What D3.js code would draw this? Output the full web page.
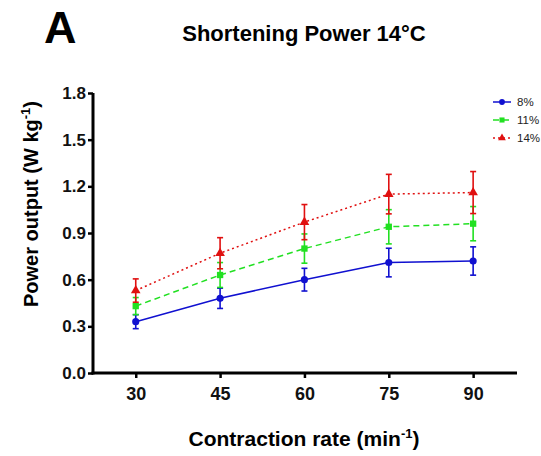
<!DOCTYPE html>
<html>
<head>
<meta charset="utf-8">
<script src="https://cdn.jsdelivr.net/npm/d3@7"></script>
<style>
  html, body { margin: 0; padding: 0; background: #fff; }
  text { font-family: "Liberation Sans", Arial, sans-serif; }
</style>
</head>
<body>
<div id="viz"></div>
<script>
// contraction rates (min^-1)
const rates = [30, 45, 60, 75, 90];
const yTicks = [0.0, 0.3, 0.6, 0.9, 1.2, 1.5, 1.8];

// mean power output (W kg^-1) and error (+/-) per strain
const p8 = [0.33, 0.48, 0.60, 0.71, 0.72];
const e8 = [0.045, 0.065, 0.073, 0.092, 0.091];
const p11 = [0.43, 0.63, 0.80, 0.94, 0.96];
const e11 = [0.055, 0.08, 0.094, 0.11, 0.11];
const p14 = [0.53, 0.77, 0.97, 1.15, 1.16];
const e14 = [0.075, 0.10, 0.113, 0.127, 0.135];

const seriesNames = ["8%", "11%", "14%"];

const series = [
  { name: seriesNames[0], values: p8, errors: e8, color: "#1010d0", dash: null, symbol: d3.symbolCircle },
  { name: seriesNames[1], values: p11, errors: e11, color: "#22e022", dash: "6,4", symbol: d3.symbolSquare },
  { name: seriesNames[2], values: p14, errors: e14, color: "#e01010", dash: "2,3", symbol: d3.symbolTriangle }
];

const W = 541, H = 456;
const margin = { top: 93, right: 24, bottom: 83, left: 93 };

const svg = d3.select("#viz")
  .append("svg")
    .attr("width", W)
    .attr("height", H);

const x = d3.scaleLinear()
  .domain([22.4, 97.8])
  .range([margin.left, W - margin.right]);

const y = d3.scaleLinear()
  .domain([0, 1.8])
  .range([H - margin.bottom, margin.top]);

// axes
const xAxis = svg.append("g")
  .attr("transform", `translate(0,${H - margin.bottom})`)
  .call(d3.axisBottom(x).tickValues(rates).tickSize(5).tickPadding(9).tickFormat(d3.format("d")));

const yAxis = svg.append("g")
  .attr("transform", `translate(${margin.left},0)`)
  .call(d3.axisLeft(y).tickValues(yTicks).tickSize(5).tickPadding(2).tickFormat(d3.format(".1f")));

[xAxis, yAxis].forEach(g => {
  g.select(".domain").attr("stroke", "#000").attr("stroke-width", 3);
  g.selectAll(".tick line").attr("stroke", "#000").attr("stroke-width", 2.5);
  g.selectAll(".tick text")
    .attr("fill", "#111")
    .style("font-size", "17px")
    .style("font-weight", "bold");
});
xAxis.selectAll(".tick text").style("font-size", "18px");
xAxis.select(".domain").attr("d", `M${margin.left - 1.5},0H${W - margin.right}`);
yAxis.select(".domain").attr("d", `M0,${margin.top}V${H - margin.bottom + 1.5}`);

// lines, error bars, markers
const line = d3.line()
  .x((d, i) => x(rates[i]))
  .y(d => y(d));

series.forEach(s => {
  const g = svg.append("g");

  g.append("path")
    .datum(s.values)
    .attr("fill", "none")
    .attr("stroke", s.color)
    .attr("stroke-width", 1.5)
    .attr("stroke-dasharray", s.dash)
    .attr("d", line);

  const bars = g.selectAll("g.err")
    .data(s.values.map((v, i) => ({ v, e: s.errors[i], r: rates[i] })))
    .join("g")
      .attr("class", "err")
      .attr("stroke", s.color)
      .attr("stroke-width", 1.6);

  bars.append("line")
    .attr("x1", d => x(d.r)).attr("x2", d => x(d.r))
    .attr("y1", d => y(d.v - d.e)).attr("y2", d => y(d.v + d.e));
  bars.append("line")
    .attr("x1", d => x(d.r) - 3).attr("x2", d => x(d.r) + 3)
    .attr("y1", d => y(d.v + d.e)).attr("y2", d => y(d.v + d.e));
  bars.append("line")
    .attr("x1", d => x(d.r) - 3).attr("x2", d => x(d.r) + 3)
    .attr("y1", d => y(d.v - d.e)).attr("y2", d => y(d.v - d.e));

  g.selectAll("path.pt")
    .data(s.values)
    .join("path")
      .attr("class", "pt")
      .attr("transform", (d, i) => `translate(${x(rates[i])},${y(d)})`)
      .attr("d", d3.symbol().type(s.symbol).size(40))
      .attr("fill", s.color);
});

// legend
const legend = svg.append("g")
  .attr("transform", "translate(493,102)");

series.forEach((s, i) => {
  const row = legend.append("g").attr("transform", `translate(0,${i * 18})`);
  row.append("line")
    .attr("x1", 0).attr("x2", 18)
    .attr("stroke", s.color)
    .attr("stroke-width", 1.5)
    .attr("stroke-dasharray", s.dash);
  row.append("path")
    .attr("transform", "translate(9,0)")
    .attr("d", d3.symbol().type(s.symbol).size(26))
    .attr("fill", s.color);
  row.append("text")
    .attr("x", 24)
    .attr("y", 4)
    .style("font-size", "11.5px")
    .attr("fill", "#222")
    .text(s.name);
});

// titles
svg.append("text")
  .attr("x", 44)
  .attr("y", 43)
  .style("font-size", "45px")
  .style("font-weight", "bold")
  .text("A");

svg.append("text")
  .attr("x", 304)
  .attr("y", 41)
  .attr("text-anchor", "middle")
  .style("font-size", "22px")
  .style("font-weight", "bold")
  .text("Shortening Power 14\u00B0C");

const xl = svg.append("text")
  .attr("x", 304)
  .attr("y", 446)
  .attr("text-anchor", "middle")
  .style("font-size", "21px")
  .style("font-weight", "bold");
xl.append("tspan").text("Contraction rate (min");
xl.append("tspan").attr("dy", -8).style("font-size", "13px").text("-1");
xl.append("tspan").attr("dy", 8).text(")");

const yl = svg.append("text")
  .attr("transform", "translate(38,204) rotate(-90)")
  .attr("text-anchor", "middle")
  .style("font-size", "20px")
  .style("font-weight", "bold");
yl.append("tspan").text("Power output (W kg");
yl.append("tspan").attr("dy", -8).style("font-size", "13px").text("-1");
yl.append("tspan").attr("dy", 8).text(")");
</script>
</body>
</html>
